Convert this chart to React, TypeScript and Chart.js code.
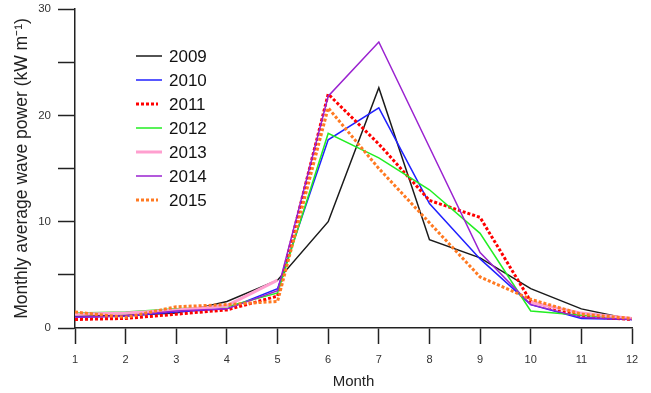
import React, { useEffect, useRef } from 'react';
import { Chart, registerables } from 'chart.js';

Chart.register(...registerables);

// Month index along the x axis
const months = [1, 2, 3, 4, 5, 6, 7, 8, 9, 10, 11, 12];

// Monthly average wave power per year (kW m^-1); null = no record for that month
const power2009 = [1.1, 1.2, 1.4, 2.5, 4.5, 10.0, 22.6, 8.3, 6.6, 3.7, 1.8, 0.8];
const power2010 = [1.0, 1.1, 1.5, 1.8, 3.7, 17.7, 20.7, 11.7, 6.5, 2.2, 0.9, 0.8];
const power2011 = [0.8, 0.9, 1.3, 1.7, 3.0, 22.0, 17.3, 12.0, 10.4, 2.5, 1.1, 0.8];
const power2012 = [1.4, 1.5, 1.8, 2.0, 3.3, 18.3, 16.0, 13.0, 8.9, 1.6, 1.2, 0.9];
const power2013 = [1.3, 1.4, 1.7, 2.1, 4.5, null, null, null, null, 2.4, 1.4, 0.9];
const power2014 = [1.0, 1.15, 1.6, 1.8, 3.5, 21.8, 26.9, 17.0, 7.1, 2.2, 1.0, 0.8];
const power2015 = [1.5, 1.0, 2.0, 2.2, 2.5, 20.7, 15.0, 9.9, 4.8, 2.7, 1.3, 0.9];

const years = ['2009', '2010', '2011', '2012', '2013', '2014', '2015'];
const seriesValues: (number | null)[][] = [power2009, power2010, power2011, power2012, power2013, power2014, power2015];

// y tick values every 5, labelled every 10
const yMin = 0;
const yMax = 30;
const yStep = 5;

type LineStyle = { color: string; width: number; dash: number[] };

const styles: LineStyle[] = [
  { color: '#1a1a1a', width: 1.5, dash: [] },
  { color: '#2020ff', width: 1.5, dash: [] },
  { color: '#ff0000', width: 3, dash: [3, 2] },
  { color: '#22ee22', width: 1.5, dash: [] },
  { color: '#ff9fcf', width: 3, dash: [] },
  { color: '#9a22d0', width: 1.5, dash: [] },
  { color: '#ff7a22', width: 3, dash: [3, 2] },
];

const FONT = "'Liberation Sans', Arial, sans-serif";

// Legend drawn inside the plot area, upper left
const insideLegend = {
  id: 'insideLegend',
  afterDatasetsDraw(chart: Chart) {
    const ctx = chart.ctx;
    const x0 = 136;
    const x1 = 162;
    const textX = 169;
    const y0 = 56;
    const rowH = 24;
    ctx.save();
    chart.data.datasets.forEach((ds: any, i: number) => {
      const y = y0 + i * rowH;
      ctx.beginPath();
      ctx.strokeStyle = ds.borderColor;
      ctx.lineWidth = ds.borderWidth;
      ctx.setLineDash(ds.borderDash || []);
      ctx.lineCap = 'butt';
      ctx.moveTo(x0, y);
      ctx.lineTo(ds.borderDash && ds.borderDash.length ? x1 - 4 : x1, y);
      ctx.stroke();
      ctx.setLineDash([]);
      ctx.fillStyle = '#111';
      ctx.font = `17px ${FONT}`;
      ctx.textAlign = 'left';
      ctx.textBaseline = 'middle';
      ctx.fillText(ds.label, textX, y + 1);
    });
    ctx.restore();
  },
};

export default function App() {
  const canvasRef = useRef<HTMLCanvasElement | null>(null);

  useEffect(() => {
    const canvas = canvasRef.current;
    if (!canvas) return;

    const datasets = years.map((year, i) => ({
      label: year,
      data: months.map((m, j) => ({ x: m, y: seriesValues[i][j] })),
      borderColor: styles[i].color,
      backgroundColor: styles[i].color,
      borderWidth: styles[i].width,
      borderDash: styles[i].dash,
      borderCapStyle: 'butt' as const,
      borderJoinStyle: 'miter' as const,
      pointRadius: 0,
      tension: 0,
      fill: false,
      spanGaps: false,
      order: years.length - i,
    }));

    const chart = new Chart(canvas, {
      type: 'line',
      data: { datasets },
      options: {
        animation: false,
        responsive: false,
        devicePixelRatio: 1,
        layout: { padding: { top: 9, right: 19, left: 0, bottom: 0 } },
        plugins: {
          legend: { display: false },
          tooltip: { enabled: false },
        },
        scales: {
          x: {
            type: 'linear',
            min: 1,
            max: 12,
            afterFit(scale: any) {
              scale.height = 65;
            },
            ticks: {
              stepSize: 1,
              color: '#333',
              font: { size: 11, family: FONT },
              padding: 9,
              maxRotation: 0,
              autoSkip: false,
            },
            grid: {
              drawOnChartArea: false,
              drawTicks: true,
              tickLength: 16,
              tickWidth: 1.5,
              tickColor: '#222',
            },
            border: { display: true, color: '#222', width: 1.5 },
            title: {
              display: true,
              text: 'Month',
              color: '#222',
              font: { size: 15, family: FONT },
              padding: { top: 0, bottom: 2 },
            },
          },
          y: {
            type: 'linear',
            min: yMin,
            max: yMax,
            afterFit(scale: any) {
              scale.width = 75;
              scale.paddingTop = 0;
              scale.paddingBottom = 0;
            },
            ticks: {
              stepSize: yStep,
              color: '#333',
              font: { size: 11.5, family: FONT },
              padding: 7,
              callback: (v: any) => (Number(v) % 10 === 0 ? String(v) : ''),
            },
            grid: {
              drawOnChartArea: false,
              drawTicks: true,
              tickLength: 17,
              tickWidth: 1.5,
              tickColor: '#222',
            },
            border: { display: true, color: '#222', width: 1.5 },
            title: {
              display: true,
              text: 'Monthly average wave power (kW m\u207B\u00B9)',
              color: '#222',
              font: { size: 17.5, family: FONT },
              padding: { top: 12, bottom: 0 },
            },
          },
        },
      },
      plugins: [insideLegend],
    });

    return () => chart.destroy();
  }, []);

  return (
    <div style={{ position: 'absolute', left: 0, top: 0, width: 651, height: 393, background: '#fff' }}>
      <canvas ref={canvasRef} width={651} height={393} style={{ display: 'block', width: 651, height: 393 }} />
    </div>
  );
}
